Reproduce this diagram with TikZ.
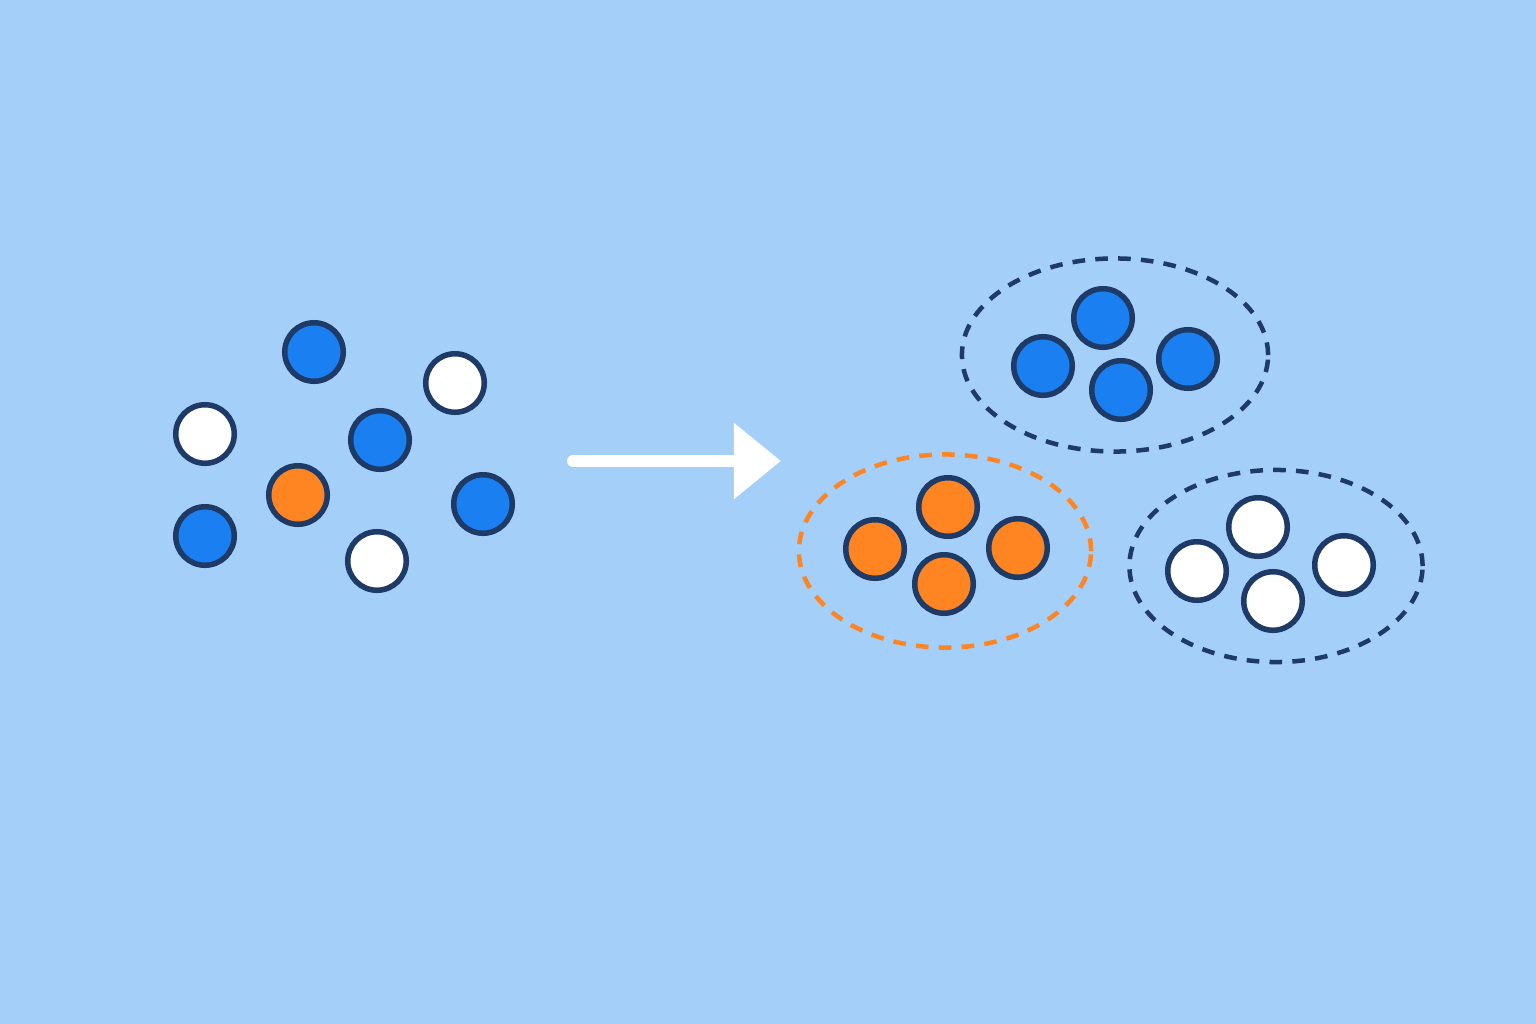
\documentclass[tikz,border=0pt]{standalone}
\usepackage{tikz}
\usetikzlibrary{
  arrows.meta,
  shapes.geometric
}
\definecolor{bgblue}{HTML}{A3CFF9}
\definecolor{dotblue}{HTML}{1A80F2}
\definecolor{dotorange}{HTML}{FF8522}
\definecolor{navy}{HTML}{1E3A66}

\begin{document}
\begin{tikzpicture}[
  x=0.01cm, y=-0.01cm,
  dot/.style={circle, minimum size=0.585cm, inner sep=0pt, draw=navy, line width=0.055cm},
  group/.style={ellipse, draw=#1, line width=0.045cm, dash pattern=on 3.6pt off 2.9pt, inner sep=0pt},
  arr/.style={white, line width=0.12cm, line cap=round, -{Triangle[length=0.47cm, width=0.73cm]}},
]
% --- Background ---
\fill[bgblue] (0,0) rectangle (1536,1024);
\useasboundingbox (0,0) rectangle (1536,1024);

% --- Mixed points ---
\foreach \i/\c/\x/\y in {1/dotblue/314/352, 2/white/455/383, 3/white/205/434, 4/dotblue/380/440, 5/dotorange/298/495, 6/dotblue/483/504, 7/dotblue/205/536, 8/white/377/561}{
  \node[dot, fill=\c] (mix\i) at (\x,\y) {};
}

% --- Arrow ---
\coordinate (arrStart) at (573,461);
\coordinate (arrEnd) at (781,461);
\draw[arr] (arrStart) -- (arrEnd);

% --- Clusters ---
\node[group=navy, minimum width=3.06cm, minimum height=1.93cm] (grpBlue) at (1115,355) {};
\node[group=dotorange, minimum width=2.92cm, minimum height=1.93cm] (grpOrange) at (945,551) {};
\node[group=navy, minimum width=2.93cm, minimum height=1.92cm] (grpWhite) at (1276,566) {};

\foreach \i/\x/\y in {1/1103/318, 2/1043/366, 3/1121/390, 4/1188/359}{
  \node[dot, fill=dotblue] (blue\i) at (\x,\y) {};
}
\foreach \i/\x/\y in {1/948/507, 2/875/549, 3/944/584, 4/1018/548}{
  \node[dot, fill=dotorange] (orange\i) at (\x,\y) {};
}
\foreach \i/\x/\y in {1/1258/527, 2/1197/571, 3/1273/601, 4/1344/565}{
  \node[dot, fill=white] (white\i) at (\x,\y) {};
}
\end{tikzpicture}
\end{document}
